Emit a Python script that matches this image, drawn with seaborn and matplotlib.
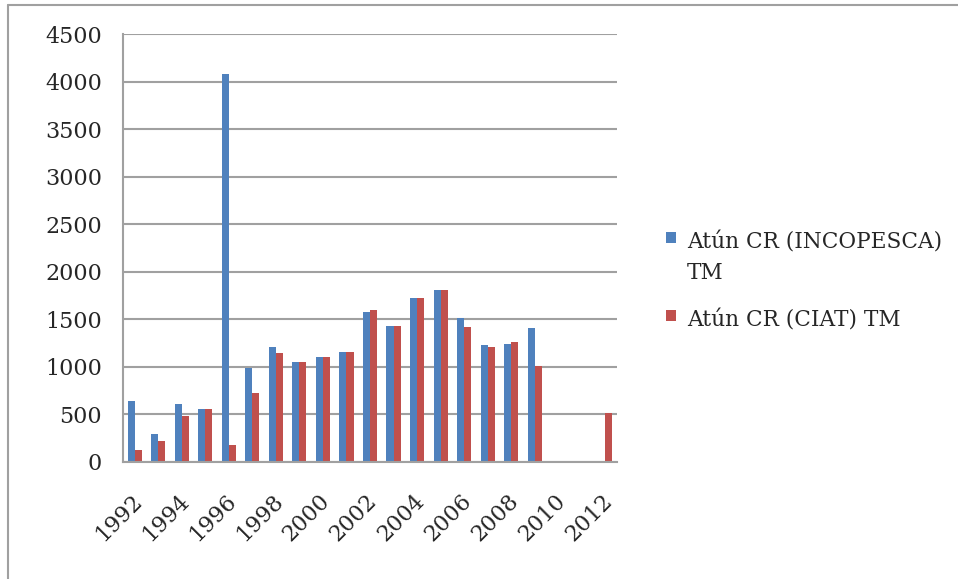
import numpy as np
import pandas as pd
import seaborn as sns
import matplotlib.pyplot as plt
import matplotlib.transforms as mtransforms
from matplotlib.lines import Line2D
from matplotlib.patches import Rectangle

# values (toneladas metricas)
years = list(range(1992, 2013))
incopesca = [639, 292, 611, 555, 4080, 994, 1211, 1053, 1110, 1158, 1580,
             1432, 1721, 1811, 1513, 1232, 1243, 1415, np.nan, np.nan, np.nan]
ciat = [123, 221, 481, 555, 183, 723, 1152, 1053, 1110, 1158, 1601,
        1432, 1721, 1811, 1418, 1215, 1264, 1015, 4, np.nan, 513]
series_names = ["Atún CR (INCOPESCA) TM", "Atún CR (CIAT) TM"]
legend_labels = ["Atún CR (INCOPESCA)\nTM", "Atún CR (CIAT) TM"]
colors = ["#4F81BD", "#C0504D"]

df = pd.DataFrame({
    "year": [str(y) for y in years] * 2,
    "serie": [series_names[0]] * len(years) + [series_names[1]] * len(years),
    "tm": incopesca + ciat,
})

sns.set_style("white")
plt.rcParams['font.family'] = ['DejaVu Serif']
W, H = 958, 579

fig = plt.figure(figsize=(W / 100, H / 100), dpi=100)
ax = fig.add_axes([123 / W, 1 - 462 / H, (617 - 123) / W, (462 - 34.3) / H])

sns.barplot(data=df, x="year", y="tm", hue="serie", order=[str(y) for y in years],
            hue_order=series_names, palette=colors, saturation=1, width=0.6,
            linewidth=0, legend=False, ax=ax)

grid_c = "#A0A0A0"
ax.set_ylim(0, 4500)
ax.set_xlim(-0.5, len(years) - 0.5)
ax.set_yticks(np.arange(0, 4501, 500))
ax.yaxis.grid(True, color=grid_c, linewidth=1.5)
ax.set_axisbelow(True)
ax.tick_params(axis="y", length=6, width=1.5, color=grid_c, labelsize=16, pad=9)

# tick marks between categories, labels on every other year
ax.set_xticks(np.arange(-0.5, len(years), 1.0))
ax.set_xticklabels([])
ax.tick_params(axis="x", which="major", length=7, width=1.5, color=grid_c, direction="out")
ax.set_xticks(np.arange(0, len(years), 2), minor=True)
ax.set_xticklabels([str(y) for y in years[::2]], minor=True, rotation=45,
                   ha="right", rotation_mode="anchor", fontsize=16)
ax.tick_params(axis="x", which="minor", length=0, pad=20)
shift = mtransforms.ScaledTranslation(-4 / 100, 0, fig.dpi_scale_trans)
for lbl in ax.get_xticklabels(minor=True):
    lbl.set_transform(lbl.get_transform() + shift)

for s in ["top", "right"]:
    ax.spines[s].set_visible(False)
for s in ["left", "bottom"]:
    ax.spines[s].set_color(grid_c)
    ax.spines[s].set_linewidth(1.5)
ax.set_xlabel("")
ax.set_ylabel("")

# legend to the right, square key lined up with the first text line
key_top = [232, 310]
text_top = [232, 309]
for lab, col, kt, tt in zip(legend_labels, colors, key_top, text_top):
    fig.add_artist(Rectangle((666 / W, 1 - (kt + 11) / H), 10 / W, 11 / H,
                             transform=fig.transFigure, color=col, linewidth=0))
    fig.text(687 / W, 1 - tt / H, lab, fontsize=15.6, va="top", ha="left",
             linespacing=1.5)

# chart frame, only the top and left edges are visible
fig.add_artist(Line2D([8 / W, 1], [1 - 5 / H, 1 - 5 / H], color=grid_c, linewidth=1.5))
fig.add_artist(Line2D([8 / W, 8 / W], [0, 1 - 5 / H], color=grid_c, linewidth=1.5))

fig.savefig("out.png", dpi=100)
